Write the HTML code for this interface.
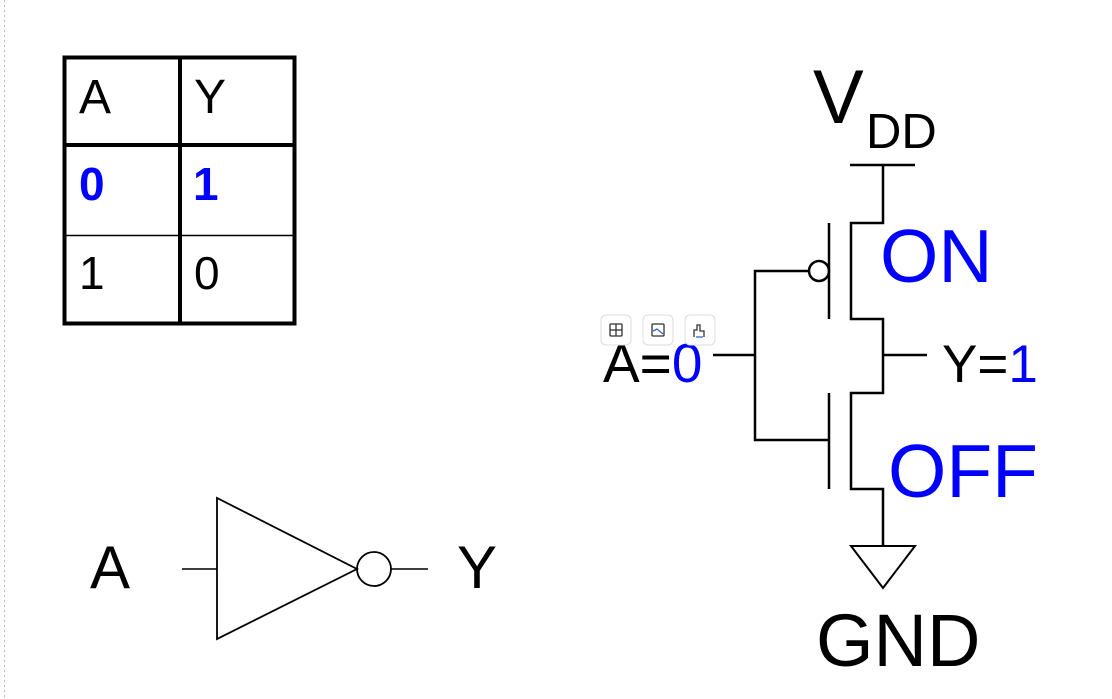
<!DOCTYPE html>
<html><head><meta charset="utf-8"><style>
html,body{margin:0;padding:0;background:#fff;}
body{width:1112px;height:699px;overflow:hidden;position:relative;}
svg{position:absolute;left:0;top:0;}
text{font-family:"Liberation Sans",sans-serif;}
</style></head><body>
<svg width="1112" height="699" viewBox="0 0 1112 699" xmlns="http://www.w3.org/2000/svg">
<line x1="4.5" y1="0" x2="4.5" y2="699" stroke="#bbb" stroke-width="1" stroke-dasharray="2,3"/>
<!-- truth table -->
<rect x="64.5" y="57.5" width="230" height="266" fill="none" stroke="#000" stroke-width="4"/>
<line x1="180" y1="57" x2="180" y2="324" stroke="#000" stroke-width="4"/>
<line x1="64" y1="145" x2="295" y2="145" stroke="#000" stroke-width="4"/>
<line x1="64" y1="235.5" x2="295" y2="235.5" stroke="#000" stroke-width="1.5"/>
<text x="79" y="113" font-size="48">A</text>
<text x="194" y="113" font-size="48">Y</text>
<text x="79" y="200" font-size="46" font-weight="bold" fill="#0000ff">0</text>
<text x="193" y="200" font-size="46" font-weight="bold" fill="#0000ff">1</text>
<text x="79" y="289" font-size="46">1</text>
<text x="194" y="289" font-size="46">0</text>
<!-- inverter -->
<text x="90" y="588" font-size="60">A</text>
<text x="457" y="588" font-size="60">Y</text>
<line x1="182" y1="569" x2="217" y2="569" stroke="#000" stroke-width="1.5"/>
<polygon points="217,498 217,639 357,569" fill="none" stroke="#000" stroke-width="1.8"/>
<circle cx="374" cy="569" r="17" fill="none" stroke="#000" stroke-width="1.8"/>
<line x1="391" y1="569" x2="428" y2="569" stroke="#000" stroke-width="1.5"/>
<!-- CMOS -->
<g stroke="#000" stroke-width="2.5" fill="none">
<line x1="850" y1="165" x2="915" y2="165"/>
<polyline points="883,165 883,223 851,223 851,319 883,319 883,393 851,393 851,489 883,489 883,546"/>
<line x1="883" y1="355" x2="927" y2="355"/>
<line x1="829" y1="223" x2="829" y2="319"/>
<line x1="829" y1="393" x2="829" y2="489"/>
<circle cx="819" cy="271" r="10"/>
<polyline points="809,271 755,271 755,440 829,440"/>
<line x1="713" y1="355" x2="755" y2="355"/>
<polygon points="851,546 915,546 883,588" stroke-width="2"/>
</g>
<text x="813" y="123" font-size="76">V</text>
<text x="866" y="148" font-size="49">DD</text>
<text x="880" y="282" font-size="75" fill="#0000ff">ON</text>
<text x="888" y="497" font-size="75" fill="#0000ff">OFF</text>
<text x="942" y="382" font-size="53">Y=<tspan fill="#0000ff">1</tspan></text>
<text x="603" y="382" font-size="55">A=<tspan fill="#0000ff">0</tspan></text>
<text x="816" y="666" font-size="74">GND</text>
<!-- toolbar icons -->
<g fill="#fff" stroke="#ddd" stroke-width="1">
<rect x="601" y="315" width="30" height="30" rx="5"/>
<rect x="643" y="315" width="30" height="30" rx="5"/>
<rect x="685" y="315" width="30" height="30" rx="5"/>
</g>
<g fill="none" stroke="#333" stroke-width="1.3">
<rect x="610" y="324" width="12" height="12" rx="1"/>
<line x1="616" y1="324" x2="616" y2="336"/><line x1="610" y1="330" x2="622" y2="330"/>
<rect x="652" y="324" width="12" height="12" rx="1"/>
<polyline points="653,331 657,329 663,334" stroke="#36c"/>
<polyline points="694,337 694,330 697,330 697,325 700,325 700,331 704,331 704,337"/>
<line x1="696" y1="337" x2="703" y2="337" stroke="#36c"/>
</g>
</svg>
</body></html>
